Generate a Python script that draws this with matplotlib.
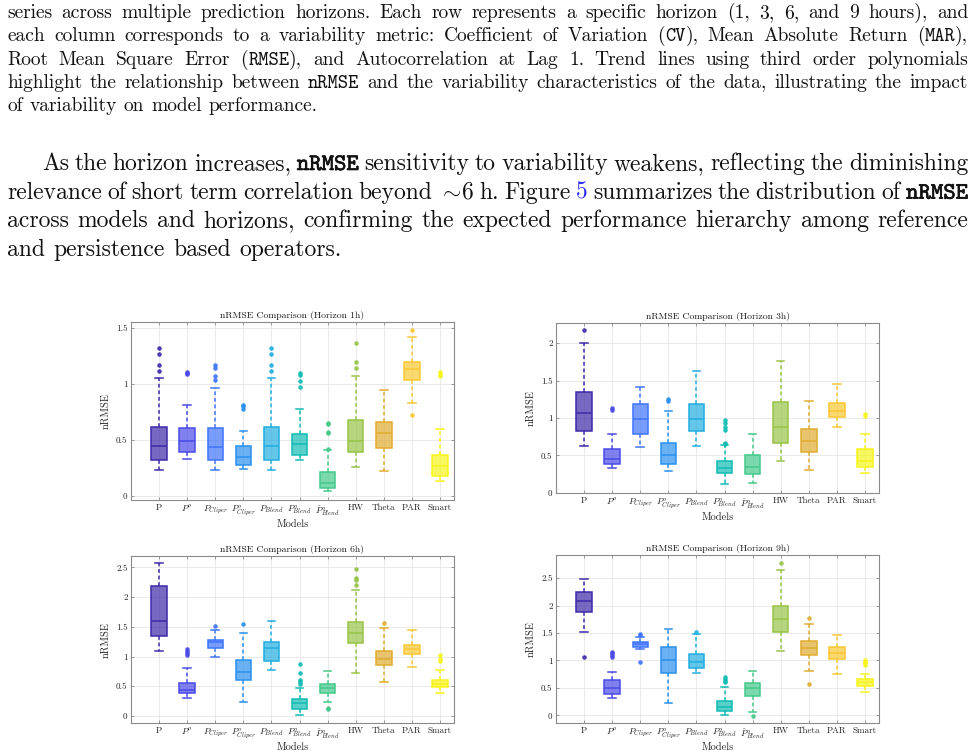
import re
import numpy as np
import matplotlib
matplotlib.use('Agg')
import matplotlib.pyplot as plt
import matplotlib.patheffects as pe
from matplotlib.colors import to_rgb
from matplotlib.ticker import FuncFormatter

plt.rcParams['mathtext.fontset'] = 'cm'
plt.rcParams['font.family'] = 'cmr10'
plt.rcParams['axes.formatter.use_mathtext'] = True
plt.rcParams['axes.unicode_minus'] = False

W, H = 976, 753

MODELS = ['P', r'$P^{o}$', r'$P_{Cliper}$', r'$P^{o}_{Cliper}$', r'$P_{Blend}$',
          r'$P^{o}_{Blend}$', r'$\hat{P}^{o}_{Blend}$', 'HW', 'Theta', 'PAR', 'Smart']
COLORS = ['#3e2aa8', '#4a4ae8', '#3f74fb', '#2a90ee', '#22aee0', '#12bcb4',
          '#45c98a', '#97c447', '#e0ac30', '#f8c833', '#f6f41c']

# horizon 1h
H1_Q1 = [0.32, 0.39, 0.32, 0.28, 0.32, 0.37, 0.07, 0.39, 0.43, 1.04, 0.18]
H1_MED = [0.45, 0.49, 0.44, 0.35, 0.45, 0.46, 0.12, 0.49, 0.56, 1.13, 0.27]
H1_Q3 = [0.62, 0.61, 0.61, 0.45, 0.62, 0.55, 0.21, 0.68, 0.66, 1.20, 0.37]
H1_LO = [0.23, 0.33, 0.23, 0.24, 0.23, 0.32, 0.04, 0.26, 0.22, 0.83, 0.13]
H1_HI = [1.05, 0.81, 0.96, 0.58, 1.05, 0.78, 0.41, 1.07, 0.95, 1.42, 0.60]
H1_FLIERS = [[1.12, 1.17, 1.27, 1.32], [1.09, 1.10, 1.11], [1.04, 1.07, 1.14, 1.17],
             [0.78, 0.80, 0.81], [1.12, 1.17, 1.27, 1.32], [0.97, 1.03, 1.08, 1.10],
             [0.42, 0.56, 0.57, 0.64, 0.65], [1.14, 1.20, 1.37], [], [0.72, 1.48],
             [1.07, 1.09, 1.11]]

# horizon 3h
H3_Q1 = [0.82, 0.38, 0.78, 0.38, 0.82, 0.27, 0.25, 0.67, 0.55, 1.01, 0.35]
H3_MED = [1.07, 0.45, 0.98, 0.51, 0.99, 0.33, 0.34, 0.88, 0.69, 1.09, 0.43]
H3_Q3 = [1.35, 0.58, 1.18, 0.67, 1.18, 0.42, 0.51, 1.21, 0.85, 1.20, 0.59]
H3_LO = [0.63, 0.33, 0.61, 0.29, 0.63, 0.11, 0.13, 0.42, 0.31, 0.88, 0.26]
H3_HI = [2.00, 0.79, 1.41, 1.09, 1.63, 0.64, 0.79, 1.76, 1.22, 1.46, 0.78]
H3_FLIERS = [[2.17], [1.10, 1.13], [], [1.23, 1.25], [],
             [0.65, 0.67, 0.84, 0.88, 0.93, 0.97], [], [], [], [], [1.02, 1.05]]

# horizon 6h
H6_Q1 = [1.35, 0.38, 1.14, 0.61, 0.93, 0.12, 0.39, 1.22, 0.86, 1.04, 0.48]
H6_MED = [1.60, 0.44, 1.24, 0.74, 1.14, 0.21, 0.47, 1.39, 0.95, 1.12, 0.54]
H6_Q3 = [2.19, 0.56, 1.28, 0.94, 1.24, 0.28, 0.54, 1.58, 1.10, 1.20, 0.61]
H6_LO = [1.10, 0.31, 0.99, 0.24, 0.77, 0.01, 0.23, 0.72, 0.57, 0.82, 0.39]
H6_HI = [2.57, 0.80, 1.45, 1.40, 1.60, 0.47, 0.76, 2.11, 1.48, 1.44, 0.78]
H6_FLIERS = [[], [1.03, 1.06, 1.09, 1.12], [1.51], [1.55], [],
             [0.53, 0.57, 0.61, 0.72, 0.87], [0.12, 0.14], [2.20, 2.28, 2.32, 2.47],
             [1.56], [], [0.92, 0.95, 1.03]]

# horizon 9h
H9_Q1 = [1.89, 0.38, 1.25, 0.77, 0.87, 0.07, 0.35, 1.52, 1.09, 1.03, 0.54]
H9_MED = [2.09, 0.49, 1.29, 1.01, 0.98, 0.15, 0.49, 1.75, 1.22, 1.13, 0.60]
H9_Q3 = [2.25, 0.65, 1.33, 1.24, 1.12, 0.26, 0.58, 2.00, 1.35, 1.24, 0.67]
H9_LO = [1.52, 0.32, 1.20, 0.23, 0.77, 0.00, 0.06, 1.18, 0.81, 0.75, 0.43]
H9_HI = [2.49, 0.79, 1.43, 1.57, 1.49, 0.51, 0.81, 2.65, 1.66, 1.46, 0.76]
H9_FLIERS = [[1.07], [1.07, 1.10, 1.13, 1.15], [0.97, 1.47, 1.49], [], [1.51],
             [0.60, 0.63, 0.67, 0.70], [-0.01], [2.77], [0.57, 1.78], [],
             [0.92, 0.95, 0.98, 1.00]]

CAPTION = [
    "series across multiple prediction horizons. Each row represents a specific horizon (1, 3, 6, and 9 hours), and",
    "each column corresponds to a variability metric: Coefficient of Variation (`CV`), Mean Absolute Return (`MAR`),",
    "Root Mean Square Error (`RMSE`), and Autocorrelation at Lag 1. Trend lines using third order polynomials",
    "highlight the relationship between `nRMSE` and the variability characteristics of the data, illustrating the impact",
    "of variability on model performance.",
]
BODY = [
    "As the horizon increases, ^nRMSE^ sensitivity to variability weakens, reflecting the diminishing",
    r"relevance of short term correlation beyond $\sim\!$6 h. Figure |5| summarizes the distribution of ^nRMSE^",
    "across models and horizons, confirming the expected performance hierarchy among reference",
    "and persistence based operators.",
]

fig = plt.figure(figsize=(W / 100, H / 100), dpi=100)
renderer = fig.canvas.get_renderer()

STYLES = {
    'rm': dict(family='cmr10', color='#111111'),
    'tt': dict(family='cmtt10', color='#111111'),
    'ttb': dict(family='cmtt10', color='#111111',
                path_effects=[pe.withStroke(linewidth=0.45, foreground='#111111')]),
    'ref': dict(family='cmr10', color='#2a2aff'),
}
MARK = re.compile(r'`([^`]*)`|\^([^^]*)\^|\|([^|]*)\|')


def split_word(word):
    out, pos = [], 0
    for m in MARK.finditer(word):
        if m.start() > pos:
            out.append((word[pos:m.start()], 'rm'))
        if m.group(1) is not None:
            out.append((m.group(1), 'tt'))
        elif m.group(2) is not None:
            out.append((m.group(2), 'ttb'))
        else:
            out.append((m.group(3), 'ref'))
        pos = m.end()
    if pos < len(word):
        out.append((word[pos:], 'rm'))
    return out


def width(s, st, size):
    t = fig.text(0, 0, s, fontsize=size, **STYLES[st])
    w = t.get_window_extent(renderer).width
    t.remove()
    return w


def put_line(line, x0, x1, base, size, justify):
    words = [split_word(w) for w in line.split()]
    ws = [sum(width(s, st, size) for s, st in wd) for wd in words]
    if justify:
        gap = (x1 - x0 - sum(ws)) / (len(words) - 1)
    else:
        gap = 0.36 * size * 100 / 72
    x = x0
    for wd in words:
        for s, st in wd:
            t = fig.text(x / W, 1 - base / H, s, fontsize=size, ha='left',
                         va='baseline', **STYLES[st])
            x += t.get_window_extent(renderer).width
        x += gap


for i, line in enumerate(CAPTION):
    put_line(line, 7, 968, 18 + 23.3 * i, 14, i < len(CAPTION) - 1)
for i, line in enumerate(BODY):
    put_line(line, 42 if i == 0 else 7, 968, 170 + 28.7 * i, 17, i < len(BODY) - 1)


def panel(rect, horizon, q1, med, q3, lo, hi, fliers, ylim, yticks):
    l, t, r, b = rect
    ax = fig.add_axes([l / W, 1 - b / H, (r - l) / W, (b - t) / H])
    stats = [dict(q1=a, med=m, q3=c, whislo=d, whishi=e, fliers=f)
             for a, m, c, d, e, f in zip(q1, med, q3, lo, hi, fliers)]
    pos = np.arange(1, len(MODELS) + 1)
    bp = ax.bxp(stats, positions=pos, widths=0.55, capwidths=0.27,
                patch_artist=True, manage_ticks=False)
    for i, c in enumerate(COLORS):
        bp['boxes'][i].set(facecolor=(*to_rgb(c), 0.7), edgecolor=c, linewidth=1.1)
        bp['medians'][i].set(color=c, linewidth=1.1)
        for k in (2 * i, 2 * i + 1):
            bp['whiskers'][k].set(color=c, linestyle=(0, (2.5, 1.8)), linewidth=1.1)
            bp['caps'][k].set(color=c, linewidth=1.1)
        bp['fliers'][i].set(marker='o', markerfacecolor=c, markeredgecolor=c,
                            markersize=2.3, alpha=0.85)
    ax.set_xlim(0, 11.5)
    ax.set_ylim(*ylim)
    ax.set_xticks(pos)
    ax.set_xticklabels(MODELS, fontsize=6.5)
    ax.set_yticks(yticks)
    ax.yaxis.set_major_formatter(FuncFormatter(lambda v, p: '{:g}'.format(v)))
    ax.tick_params(direction='in', length=2.5, width=0.6, top=True, right=True,
                   colors='#8a8a8a', labelcolor='#262626', labelsize=6.5, pad=2.5)
    ax.grid(True, color='#e6e6e6', linewidth=0.6)
    ax.set_axisbelow(True)
    for sp in ax.spines.values():
        sp.set_color('#8a8a8a')
        sp.set_linewidth(0.8)
    ax.set_title('nRMSE Comparison (Horizon {})'.format(horizon), fontsize=7,
                 pad=3, color='#1a1a1a')
    ax.set_xlabel('Models', fontsize=7.5, labelpad=1, color='#262626')
    ax.set_ylabel('nRMSE', fontsize=7.5, labelpad=4, color='#262626')
    return ax


panel((131, 322, 454, 500), '1h', H1_Q1, H1_MED, H1_Q3, H1_LO, H1_HI, H1_FLIERS,
      (-0.036, 1.554), [0, 0.5, 1, 1.5])
panel((556, 323, 879, 493), '3h', H3_Q1, H3_MED, H3_Q3, H3_LO, H3_HI, H3_FLIERS,
      (-0.004, 2.27), [0, 0.5, 1, 1.5, 2])
panel((131, 556, 454, 723), '6h', H6_Q1, H6_MED, H6_Q3, H6_LO, H6_HI, H6_FLIERS,
      (-0.118, 2.69), [0, 0.5, 1, 1.5, 2, 2.5])
panel((556, 555, 879, 723), '9h', H9_Q1, H9_MED, H9_Q3, H9_LO, H9_HI, H9_FLIERS,
      (-0.14, 2.92), [0, 0.5, 1, 1.5, 2, 2.5])

fig.savefig('out.png', dpi=100, facecolor='white')
